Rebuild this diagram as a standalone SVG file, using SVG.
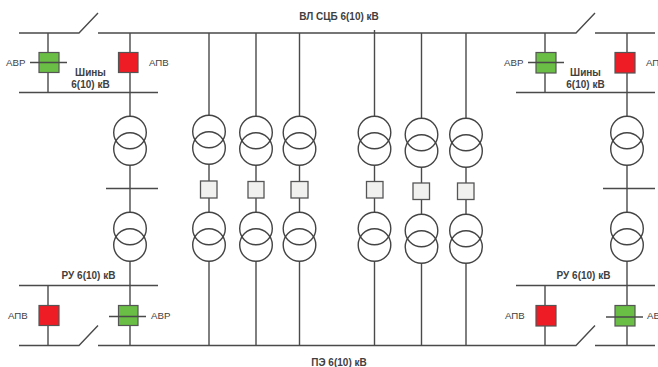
<svg xmlns="http://www.w3.org/2000/svg" width="658" height="367" viewBox="0 0 658 367">
<style>
.w{fill:none;stroke:#4a4a4a;stroke-width:1.4}
.c{fill:none;stroke:#444;stroke-width:1.4}
.r{fill:#ee1c25;stroke:#555;stroke-width:1.2}
.g{fill:#6abd45;stroke:#555;stroke-width:1.2}
.s{fill:#f1f2f0;stroke:#555;stroke-width:1.3}
text{font-family:"Liberation Sans",Arial,sans-serif;font-size:9.700px;fill:#3f3f3f}
.b{font-size:10px;font-weight:bold;text-anchor:middle}
</style>
<defs>
<g id="tr"><circle class="c" cx="0" cy="16.5" r="16.3"/><circle class="c" cx="0" cy="33" r="16.3"/></g>
</defs>
<rect width="658" height="367" fill="#fff"/>
<g id="connectors" class="w">
<path d="M19 33H79L98 13M98 33H576L595 13M595 33H655"/>
<path d="M19 92.500H158M516 92.500H655M106 188.500H158M603 188.500H655M19 285.500H158M516 285.500H655"/>
<path d="M19 345.500H79L98 325.500M98 345.500H576L595 325.500M595 345.500H655"/>
<path d="M48 33V92M130 33V116M130 165V212M130 261V345M48 285V345"/>
<path d="M545 33V92M627 33V116M627 165V212M627 261V345M545 285V345"/>
<path d="M209 33V115M209 164V212M209 261V345M256 33V116M256 165V212M256 261V345M299.500 33V116M299.500 165V212M299.500 261V345"/>
<path d="M374.500 30V116M374.500 165V212M374.500 261V345M421.500 33V118M421.500 167V214M421.500 263V345M466 33V118M466 167V214M466 263V345"/>
</g>
<g id="avr-top-left"><rect class="g" x="39" y="52.500" width="20" height="20"/><path class="w" d="M30 62.500H67"/><text x="6" y="65.500">АВР</text></g>
<g id="apv-top-left"><rect class="r" x="118.500" y="52.500" width="19.500" height="20"/><text x="149" y="65.500">АПВ</text></g>
<g id="avr-top-right"><rect class="g" x="536" y="52.500" width="20" height="20.500"/><path class="w" d="M528 62.500H564"/><text x="504" y="65.500">АВР</text></g>
<g id="apv-top-right"><rect class="r" x="615" y="52.500" width="20" height="20.500"/><text x="646" y="65.500">АПВ</text></g>
<g id="apv-bottom-left"><rect class="r" x="39" y="305.500" width="20" height="20"/><text x="8" y="318.500">АПВ</text></g>
<g id="avr-bottom-left"><rect class="g" x="118.500" y="305.500" width="19.500" height="20"/><path class="w" d="M109 316.500H146"/><text x="151" y="318.500">АВР</text></g>
<g id="apv-bottom-right"><rect class="r" x="536" y="305.500" width="20" height="20.500"/><text x="505" y="318.500">АПВ</text></g>
<g id="avr-bottom-right"><rect class="g" x="615" y="305.500" width="20" height="20.500"/><path class="w" d="M606 317H643"/><text x="647" y="318.500">АВР</text></g>
<g id="t1"><use href="#tr" x="130" y="116"/><use href="#tr" x="130" y="212"/></g>
<g id="t2"><use href="#tr" x="627" y="116"/><use href="#tr" x="627" y="212"/></g>
<g id="t3"><use href="#tr" x="209" y="115"/><rect class="s" x="200.500" y="181" width="16.500" height="17"/><use href="#tr" x="209" y="212"/></g>
<g id="t4"><use href="#tr" x="256" y="116"/><rect class="s" x="248" y="181.500" width="16" height="16.500"/><use href="#tr" x="256" y="212"/></g>
<g id="t5"><use href="#tr" x="299.500" y="116"/><rect class="s" x="291" y="181.500" width="17" height="16.500"/><use href="#tr" x="299.500" y="212"/></g>
<g id="t6"><use href="#tr" x="374.500" y="116"/><rect class="s" x="366.500" y="181.500" width="16.500" height="16.500"/><use href="#tr" x="374.500" y="212"/></g>
<g id="t7"><use href="#tr" x="421.500" y="118"/><rect class="s" x="413" y="183" width="16.500" height="16.500"/><use href="#tr" x="421.500" y="214"/></g>
<g id="t8"><use href="#tr" x="466" y="118"/><rect class="s" x="457.500" y="183" width="16.500" height="16.500"/><use href="#tr" x="466" y="214"/></g>
<g id="labels">
<text class="b" x="339" y="19.500">ВЛ СЦБ 6(10) кВ</text>
<text class="b" x="339" y="366">ПЭ 6(10) кВ</text>
<text class="b" x="90.500" y="75.500">Шины</text>
<text class="b" x="90.500" y="87.500">6(10) кВ</text>
<text class="b" x="585.500" y="75.500">Шины</text>
<text class="b" x="585.500" y="87.500">6(10) кВ</text>
<text class="b" x="88.500" y="278.500">РУ 6(10) кВ</text>
<text class="b" x="583.500" y="278.500">РУ 6(10) кВ</text>
</g>
</svg>
